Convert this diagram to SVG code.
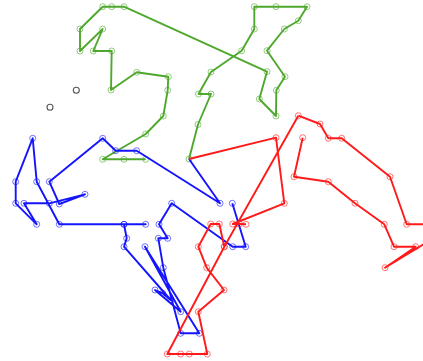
<svg xmlns="http://www.w3.org/2000/svg" width="423" height="361" viewBox="0 0 423 361">
<style>
.ln{fill:none;stroke-width:1.9;stroke-linejoin:round}
.g{stroke:#4ea82c}
.b{stroke:#1414ff}
.r{stroke:#ff1a1a}
.mk{fill:none;stroke-width:1;opacity:0.6}
</style>
<defs>
<marker id="mg" markerWidth="10" markerHeight="10" refX="5" refY="5" markerUnits="userSpaceOnUse" overflow="visible"><circle cx="5" cy="5" r="3" class="mk" stroke="#4ea82c"/></marker>
<marker id="mb" markerWidth="10" markerHeight="10" refX="5" refY="5" markerUnits="userSpaceOnUse" overflow="visible"><circle cx="5" cy="5" r="3" class="mk" stroke="#1414ff"/></marker>
<marker id="mr" markerWidth="10" markerHeight="10" refX="5" refY="5" markerUnits="userSpaceOnUse" overflow="visible"><circle cx="5" cy="5" r="3" class="mk" stroke="#ff1a1a"/></marker>
</defs>
<rect width="423" height="361" fill="#fff"/>
<g id="connectors">
<polyline id="green" class="ln g" marker-start="url(#mg)" marker-mid="url(#mg)" marker-end="url(#mg)" points="145.7,159.3 124,159.3 102.7,159.3 145.7,134 163.3,116 167.7,90.3 168.3,76.7 136.7,72.3 111,90 111.7,51 93.3,51 102.7,29 80,51 80,29 102.7,6.7 111.7,6.7 124,6.7 267,71.7 259.3,99 276,116 276.3,90.3 285,76.7 267,50.7 284.3,29 298.3,20.7 307,6.7 276,6.7 254.3,6.7 254.3,29 241.7,50.7 211,72 198.5,94 211,94 198,124.5 189,159"/>
<polyline id="blue" class="ln b" marker-mid="url(#mb)" marker-end="url(#mb)" points="189,159 220,203.3 136.7,150.7 115.7,150.7 102.7,138.3 49.3,181.7 59.3,204 85,194.3 49.3,203.3 24,203.3 36.7,224.3 15.7,203.3 15.7,181.7 32.7,138.3 36.7,181.7 59.3,224.3 124,224.3 145.7,224.3 124,224.3 126.7,238.3 124,246.7 170.7,300 162.7,293.3 155,290 180.7,311.7 145,246.7 199.3,333.3 180.7,333.3 163.3,267.7 158.3,238.3 167.7,238.3 159,224.3 171.7,203.3 232.7,246.7 245.7,246.7 232.3,203.3"/>
<polyline id="red1" class="ln r" marker-mid="url(#mr)" marker-end="url(#mr)" points="189,159 276,137.7 284.3,203.3 232.7,224 239.5,224 246,224.3"/>
<polyline id="red3" class="ln r" marker-start="url(#mr)" marker-mid="url(#mr)" marker-end="url(#mr)" points="298.3,115.7 224.3,246.7 167.3,354 180.7,354 189.3,354 207.3,354 198.3,311.7 224,290 206.7,267.7 198.3,246.7 210.7,224 219.3,224 224.3,246.7"/>
<polyline id="red4" class="ln r" marker-mid="url(#mr)" points="298.3,115.7 320,124 328.3,138.3 341.7,138.3 390,176.7 406.7,224.3 440,224.3"/>
<polyline id="red5" class="ln r" marker-start="url(#mr)" marker-mid="url(#mr)" points="302.7,137.7 294,176.7 328.3,181.7 355,203.3 384.3,224.3 394,246.7 415.7,246.7 385,267.7 460,222"/>
</g>
<g id="isolated">
<circle id="p1" cx="76.3" cy="90.3" r="3" fill="none" stroke="#555" stroke-width="1.1"/>
<circle id="p2" cx="50" cy="107.3" r="3" fill="none" stroke="#555" stroke-width="1.1"/>
</g>
</svg>
